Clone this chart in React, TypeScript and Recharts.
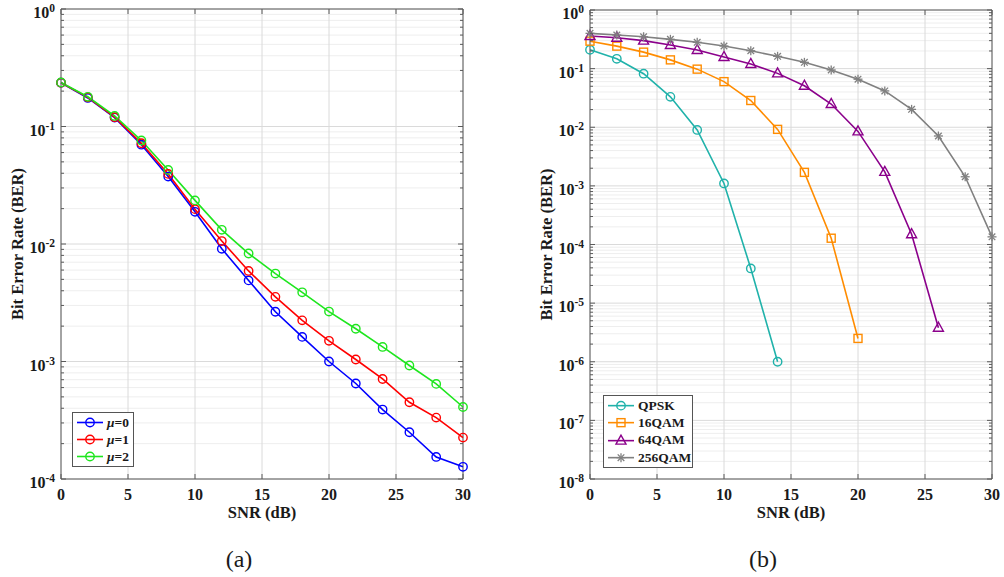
import React from 'react';
import { LineChart, Line, XAxis, YAxis, CartesianGrid, Legend, ReferenceLine, Label } from 'recharts';

// ---------- data ----------
const SNR_DB = [0, 2, 4, 6, 8, 10, 12, 14, 16, 18, 20, 22, 24, 26, 28, 30];

const BER_MU0 = [0.236, 0.175, 0.119, 0.070, 0.0375, 0.0188, 0.0091, 0.0049, 0.00265, 0.00162, 0.00100, 0.00065, 0.00039, 0.00025, 0.000154, 0.000127];
const BER_MU1 = [0.236, 0.177, 0.120, 0.072, 0.0395, 0.0198, 0.0106, 0.0059, 0.00355, 0.00224, 0.00150, 0.00104, 0.00071, 0.00045, 0.000333, 0.000225];
const BER_MU2 = [0.237, 0.179, 0.123, 0.076, 0.0427, 0.0235, 0.0132, 0.0083, 0.0056, 0.00388, 0.00266, 0.00190, 0.00133, 0.000925, 0.000645, 0.00041];

const BER_QPSK = [0.21, 0.147, 0.082, 0.033, 0.0090, 0.0011, 0.000039, 0.000001];
const BER_16QAM = [0.294, 0.242, 0.191, 0.141, 0.098, 0.060, 0.0286, 0.0092, 0.0017, 0.000128, 0.0000025];
const BER_64QAM = [0.36, 0.337, 0.30, 0.253, 0.208, 0.158, 0.12, 0.083, 0.051, 0.0249, 0.0085, 0.00173, 0.00015, 0.0000038];
const BER_256QAM = [0.40, 0.374, 0.35, 0.316, 0.281, 0.243, 0.202, 0.162, 0.128, 0.095, 0.066, 0.0417, 0.0202, 0.0071, 0.00143, 0.000135];

const X_TICKS = [0, 5, 10, 15, 20, 25, 30];
const LEFT_EXPONENTS = [-4, -3, -2, -1, 0];
const RIGHT_EXPONENTS = [-8, -7, -6, -5, -4, -3, -2, -1, 0];
const MINOR_MULTIPLIERS = [2, 3, 4, 5, 6, 7, 8, 9];

const LEFT_NAMES = ['μ=0', 'μ=1', 'μ=2'];
const RIGHT_NAMES = ['QPSK', '16QAM', '64QAM', '256QAM'];

// ---------- derived tables ----------
const leftData = SNR_DB.map((s, i) => ({ snr: s, mu0: BER_MU0[i], mu1: BER_MU1[i], mu2: BER_MU2[i] }));
const rightData = SNR_DB.map((s, i) => ({
  snr: s,
  qpsk: BER_QPSK[i],
  qam16: BER_16QAM[i],
  qam64: BER_64QAM[i],
  qam256: BER_256QAM[i],
}));

const majorsOf = (exps: number[]) => exps.map((e) => Math.pow(10, e));
const minorsOf = (exps: number[]) => {
  const out: number[] = [];
  exps.slice(0, -1).forEach((e) => MINOR_MULTIPLIERS.forEach((m) => out.push(m * Math.pow(10, e))));
  return out;
};

// ---------- styles ----------
const SERIF = '"Liberation Serif", "Times New Roman", serif';
const AXIS = '#5a5a5a';
const TEXT = '#1a1a1a';
const GRID_MAJOR = '#dadada';
const GRID_MINOR = '#eeeeee';

type MarkerKind = 'circle' | 'square' | 'triangle' | 'asterisk';

const drawMarker = (kind: MarkerKind, cx: number, cy: number, color: string, key?: string) => {
  const sw = 1.4;
  if (kind === 'circle') return <circle key={key} cx={cx} cy={cy} r={4.2} fill="none" stroke={color} strokeWidth={sw} />;
  if (kind === 'square') return <rect key={key} x={cx - 4} y={cy - 4} width={8} height={8} fill="none" stroke={color} strokeWidth={sw} />;
  if (kind === 'triangle')
    return (
      <polygon key={key} points={`${cx},${cy - 5.5} ${cx - 5},${cy + 3.5} ${cx + 5},${cy + 3.5}`} fill="none" stroke={color} strokeWidth={sw} />
    );
  return (
    <g key={key} stroke={color} strokeWidth={1.3}>
      <line x1={cx - 4.5} x2={cx + 4.5} y1={cy} y2={cy} />
      <line x1={cx} x2={cx} y1={cy - 4.5} y2={cy + 4.5} />
      <line x1={cx - 3.3} x2={cx + 3.3} y1={cy - 3.3} y2={cy + 3.3} />
      <line x1={cx - 3.3} x2={cx + 3.3} y1={cy + 3.3} y2={cy - 3.3} />
    </g>
  );
};

const makeDot = (kind: MarkerKind, color: string) => (p: any) => {
  const k = `d${p.index}`;
  if (p.cx == null || p.cy == null || p.value == null || (Array.isArray(p.value) && p.value[1] == null)) return <g key={k} />;
  return drawMarker(kind, p.cx, p.cy, color, k);
};

const makeYTick = (plotRight: number) => (props: any) => {
  const { x, y, payload } = props;
  const v = payload.value as number;
  const lg = Math.log10(v);
  const e = Math.round(lg);
  const isMajor = Math.abs(lg - e) < 1e-6;
  const len = isMajor ? 5 : 3;
  return (
    <g>
      <line x1={x} x2={x + len} y1={y} y2={y} stroke={AXIS} strokeWidth={1} />
      <line x1={plotRight} x2={plotRight - len} y1={y} y2={y} stroke={AXIS} strokeWidth={1} />
      {isMajor && (
        <text x={x - 6} y={y + 9} textAnchor="end" fontFamily={SERIF} fontWeight="bold" fontSize={16} fill={TEXT}>
          <tspan>10</tspan>
          <tspan dy={-6} fontSize={11.5}>{String(e)}</tspan>
        </text>
      )}
    </g>
  );
};

const makeXTick = (plotTop: number) => (props: any) => {
  const { x, y, payload } = props;
  return (
    <g>
      <line x1={x} x2={x} y1={y} y2={y - 5} stroke={AXIS} strokeWidth={1} />
      <line x1={x} x2={x} y1={plotTop} y2={plotTop + 5} stroke={AXIS} strokeWidth={1} />
      <text x={x} y={y + 21} textAnchor="middle" fontFamily={SERIF} fontWeight="bold" fontSize={16} fill={TEXT}>
        {payload.value}
      </text>
    </g>
  );
};

const renderName = (name: string) =>
  name.startsWith('μ') ? (
    <>
      <i style={{ fontWeight: 'bold' }}>μ</i>
      {name.slice(1)}
    </>
  ) : (
    name
  );

const makeLegend = (markers: Record<string, MarkerKind>, order: string[], width: number, rowH: number) => (props: any) => {
  const payload = [...((props.payload || []) as any[])].sort(
    (a, b) => order.indexOf(String(a.dataKey)) - order.indexOf(String(b.dataKey))
  );
  return (
    <div
      style={{
        width,
        boxSizing: 'border-box',
        border: '1px solid #555',
        background: '#fff',
        padding: '1px 0',
        fontFamily: SERIF,
        fontWeight: 'bold',
        fontSize: 13.5,
        color: TEXT,
        lineHeight: 1,
      }}
    >
      {payload.map((it) => (
        <div key={String(it.dataKey)} style={{ display: 'flex', alignItems: 'center', height: rowH }}>
          <svg width={34} height={rowH} style={{ display: 'block', flex: '0 0 auto' }}>
            <line x1={4} x2={30} y1={rowH / 2} y2={rowH / 2} stroke={it.color} strokeWidth={1.6} />
            {drawMarker(markers[String(it.dataKey)], 17, rowH / 2, it.color)}
          </svg>
          <span style={{ whiteSpace: 'nowrap' }}>{renderName(String(it.value))}</span>
        </div>
      ))}
    </div>
  );
};

const xLabel = (props: any) => {
  const vb = props.viewBox || {};
  return (
    <text x={vb.x + vb.width / 2} y={vb.y + 39} textAnchor="middle" fontFamily={SERIF} fontWeight="bold" fontSize={16.5} fill={TEXT}>
      SNR (dB)
    </text>
  );
};

const yLabel = (props: any) => {
  const vb = props.viewBox || {};
  const cx = vb.x + vb.width - 44;
  const cy = vb.y + vb.height / 2;
  return (
    <text
      x={cx}
      y={cy}
      transform={`rotate(-90, ${cx}, ${cy})`}
      textAnchor="middle"
      dominantBaseline="central"
      fontFamily={SERIF}
      fontWeight="bold"
      fontSize={16.5}
      fill={TEXT}
    >
      Bit Error Rate (BER)
    </text>
  );
};

const LEFT_SERIES = [
  { key: 'mu0', name: LEFT_NAMES[0], color: '#0000ff', marker: 'circle' as MarkerKind },
  { key: 'mu1', name: LEFT_NAMES[1], color: '#ff0000', marker: 'circle' as MarkerKind },
  { key: 'mu2', name: LEFT_NAMES[2], color: '#1ee61e', marker: 'circle' as MarkerKind },
];
const RIGHT_SERIES = [
  { key: 'qpsk', name: RIGHT_NAMES[0], color: '#20b2aa', marker: 'circle' as MarkerKind },
  { key: 'qam16', name: RIGHT_NAMES[1], color: '#ff8c00', marker: 'square' as MarkerKind },
  { key: 'qam64', name: RIGHT_NAMES[2], color: '#8b008b', marker: 'triangle' as MarkerKind },
  { key: 'qam256', name: RIGHT_NAMES[3], color: '#808080', marker: 'asterisk' as MarkerKind },
];

type PanelProps = {
  left: number;
  width: number;
  yAxisWidth: number;
  top: number;
  right: number;
  data: any[];
  exps: number[];
  series: typeof LEFT_SERIES;
  legendLeft: number;
  legendTop: number;
  legendWidth: number;
  legendRowH: number;
};

const Panel = (p: PanelProps) => {
  const height = 577;
  const bottom = 58;
  const xAxisHeight = 40;
  const plotTop = p.top;
  const plotRight = p.width - p.right;
  const majors = majorsOf(p.exps);
  const minors = minorsOf(p.exps);
  const allTicks = [...majors, ...minors].sort((a, b) => a - b);
  const markers: Record<string, MarkerKind> = {};
  p.series.forEach((s) => (markers[s.key] = s.marker));
  const order = p.series.map((s) => s.key);
  return (
    <div style={{ position: 'absolute', left: p.left, top: 0, width: p.width, height }}>
      <LineChart width={p.width} height={height} data={p.data} margin={{ top: p.top, right: p.right, bottom, left: 0 }}>
        <CartesianGrid horizontalValues={minors} vertical={false} stroke={GRID_MINOR} strokeWidth={1} />
        <CartesianGrid horizontalValues={majors} verticalValues={X_TICKS} stroke={GRID_MAJOR} strokeWidth={1} />
        <XAxis
          dataKey="snr"
          type="number"
          domain={[0, 30]}
          ticks={X_TICKS}
          interval={0}
          height={xAxisHeight}
          tickSize={0}
          tickMargin={0}
          tickLine={false}
          axisLine={{ stroke: AXIS, strokeWidth: 1 }}
          tick={makeXTick(plotTop)}
        >
          <Label content={xLabel} />
        </XAxis>
        <YAxis
          type="number"
          scale="log"
          domain={[majors[0], majors[majors.length - 1]]}
          allowDataOverflow
          ticks={allTicks}
          interval={0}
          width={p.yAxisWidth}
          tickSize={0}
          tickMargin={0}
          tickLine={false}
          axisLine={{ stroke: AXIS, strokeWidth: 1 }}
          tick={makeYTick(plotRight)}
        >
          <Label content={yLabel} />
        </YAxis>
        <ReferenceLine x={30} stroke={AXIS} strokeWidth={1} />
        <ReferenceLine y={majors[majors.length - 1]} stroke={AXIS} strokeWidth={1} />
        {p.series.map((s) => (
          <Line
            key={s.key}
            dataKey={s.key}
            name={s.name}
            stroke={s.color}
            strokeWidth={1.6}
            type="linear"
            isAnimationActive={false}
            dot={makeDot(s.marker, s.color)}
            activeDot={false}
          />
        ))}
        <Legend
          layout="vertical"
          align="center"
          verticalAlign="middle"
          itemSorter={null as any}
          content={makeLegend(markers, order, p.legendWidth, p.legendRowH)}
          wrapperStyle={{ left: p.legendLeft, top: p.legendTop, width: p.legendWidth, height: 'auto' }}
        />
      </LineChart>
    </div>
  );
};

export default function App() {
  return (
    <div style={{ position: 'absolute', left: 0, top: 0, width: 1004, height: 577, background: '#fff', overflow: 'hidden' }}>
      <Panel
        left={0}
        width={490}
        yAxisWidth={61}
        top={9}
        right={27}
        data={leftData}
        exps={LEFT_EXPONENTS}
        series={LEFT_SERIES}
        legendLeft={72}
        legendTop={412}
        legendWidth={62}
        legendRowH={17}
      />
      <Panel
        left={520}
        width={484}
        yAxisWidth={70}
        top={10}
        right={12}
        data={rightData}
        exps={RIGHT_EXPONENTS}
        series={RIGHT_SERIES}
        legendLeft={83}
        legendTop={395}
        legendWidth={90}
        legendRowH={17.3}
      />
      <svg width={1004} height={577} style={{ position: 'absolute', left: 0, top: 0, pointerEvents: 'none' }}>
        <text x={239} y={567} textAnchor="middle" fontFamily={SERIF} fontSize={24} fill={TEXT}>
          (a)
        </text>
        <text x={763} y={567} textAnchor="middle" fontFamily={SERIF} fontSize={24} fill={TEXT}>
          (b)
        </text>
      </svg>
    </div>
  );
}
